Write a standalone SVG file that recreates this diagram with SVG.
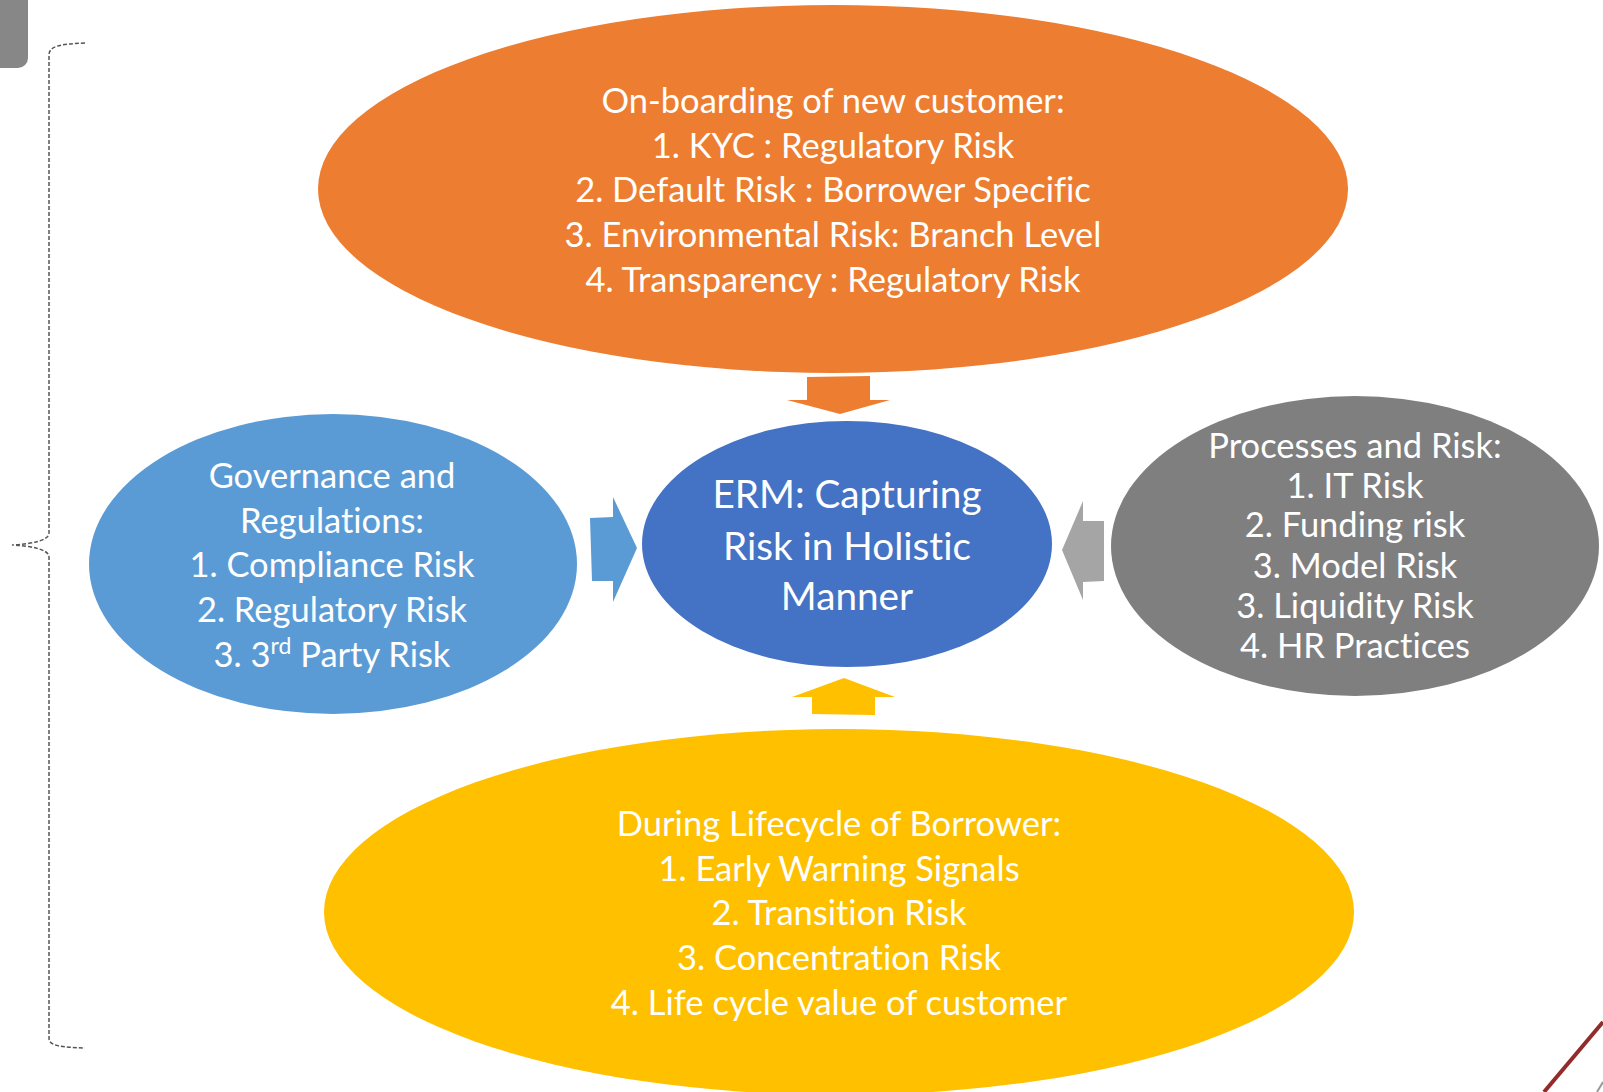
<svg xmlns="http://www.w3.org/2000/svg" width="1603" height="1092" viewBox="0 0 1603 1092">
<style>
.t{font-family:Lato,"Noto Sans",sans-serif;fill:#fff;text-anchor:middle;font-size:34.5px;font-variant-ligatures:none}
.c{font-size:38.7px}
.brace{fill:none;stroke:#555;stroke-width:1.5;stroke-dasharray:4 2}
</style>
<rect width="1603" height="1092" fill="#fff"/>
<rect x="-10" y="-10" width="38" height="78" rx="10" fill="#878787"/>
<path class="brace" d="M85,43 C60,44 49,46 49,55 L49,533 C49,541 30,544 12,545 C30,546 49,549 49,557 L49,1038 C49,1046 60,1047 85,1048"/>
<line x1="1544" y1="1092" x2="1603" y2="1022" stroke="#922B2B" stroke-width="4"/>
<line x1="1597" y1="1092" x2="1603" y2="1082" stroke="#999" stroke-width="2"/>
<g id="connectors">
<polygon points="807,377 870,376 870,400 890,400 840,414 787,400 807,400" fill="#ED7D31"/>
<polygon points="590,518 613,517 613,497 637,548 613,602 613,581 592,581" fill="#5B9BD5"/>
<polygon points="1104,521 1104,581 1083,582 1083,600 1062,550 1083,501 1083,521" fill="#A5A5A5"/>
<polygon points="844,678 895,697 875,697 875,715 812,714 812,697 792,697" fill="#FFC000"/>
</g>
<g id="top">
<ellipse cx="833" cy="189" rx="515" ry="184" fill="#ED7D31"/>
<text class="t" x="833" y="113">On-boarding of new customer:</text>
<text class="t" x="833" y="158">1. KYC : Regulatory Risk</text>
<text class="t" x="833" y="202">2. Default Risk : Borrower Specific</text>
<text class="t" x="833" y="247">3. Environmental Risk: Branch Level</text>
<text class="t" x="833" y="292">4. Transparency : Regulatory Risk</text>
</g>
<g id="center">
<ellipse cx="847" cy="544" rx="205" ry="123" fill="#4472C4"/>
<text class="t c" x="847" y="508">ERM: Capturing</text>
<text class="t c" x="847" y="560">Risk in Holistic</text>
<text class="t c" x="847" y="610">Manner</text>
</g>
<g id="left">
<ellipse cx="333" cy="564" rx="244" ry="150" fill="#5B9BD5"/>
<text class="t" x="332" y="488">Governance and</text>
<text class="t" x="332" y="533">Regulations:</text>
<text class="t" x="332" y="577">1. Compliance Risk</text>
<text class="t" x="332" y="622">2. Regulatory Risk</text>
<text class="t" x="332" y="667">3. 3<tspan font-size="23" dy="-13">rd</tspan><tspan dy="13"> Party Risk</tspan></text>
</g>
<g id="right">
<ellipse cx="1355" cy="546" rx="244" ry="150" fill="#7F7F7F"/>
<text class="t" x="1355" y="458">Processes and Risk:</text>
<text class="t" x="1355" y="498">1. IT Risk</text>
<text class="t" x="1355" y="537">2. Funding risk</text>
<text class="t" x="1355" y="578">3. Model Risk</text>
<text class="t" x="1355" y="618">3. Liquidity Risk</text>
<text class="t" x="1355" y="658">4. HR Practices</text>
</g>
<g id="bottom">
<ellipse cx="839" cy="912" rx="515" ry="183" fill="#FFC000"/>
<text class="t" x="839" y="836">During Lifecycle of Borrower:</text>
<text class="t" x="839" y="881">1. Early Warning Signals</text>
<text class="t" x="839" y="925">2. Transition Risk</text>
<text class="t" x="839" y="970">3. Concentration Risk</text>
<text class="t" x="839" y="1015">4. Life cycle value of customer</text>
</g>
</svg>
